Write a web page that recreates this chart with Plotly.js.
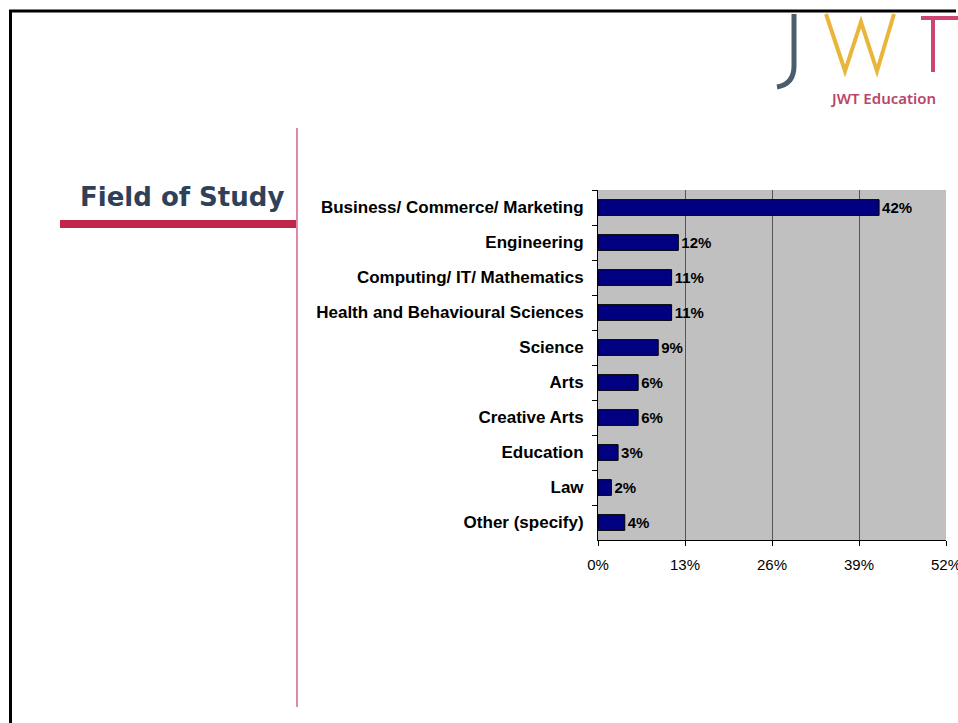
<!DOCTYPE html>
<html>
<head>
<meta charset="utf-8">
<script src="https://cdn.plot.ly/plotly-3.0.1.min.js"></script>
<style>html,body{margin:0;padding:0;background:#fff;}#chart{width:958px;height:723px;}</style>
</head>
<body>
<div id="chart"></div>
<script>
const categories = ["Business/ Commerce/ Marketing","Engineering","Computing/ IT/ Mathematics","Health and Behavioural Sciences","Science","Arts","Creative Arts","Education","Law","Other (specify)"];
const values = [42, 12, 11, 11, 9, 6, 6, 3, 2, 4];
const valueLabels = ["42%","12%","11%","11%","9%","6%","6%","3%","2%","4%"];
const xTickVals = [0, 13, 26, 39, 52];
const xTickText = ["0%","13%","26%","39%","52%"];

const W = 958, H = 723;
const px = x => x / W;
const py = y => 1 - y / H;
const P = (pts) => pts.map((p,i)=> (i? 'L':'M') + px(p[0]).toFixed(5) + ',' + py(p[1]).toFixed(5)).join(' ');

const trace = {
  type: 'bar', orientation: 'h',
  y: categories, x: values,
  text: valueLabels, textposition: 'outside', cliponaxis: false, constraintext: 'none',
  textfont: {family: 'Liberation Sans, Arial', size: 15, color: '#000', weight: 'bold'},
  marker: {color: '#000080', line: {color: '#000', width: 1}},
  width: 0.45, hoverinfo: 'none'
};

const shapes = [
  // frame
  {type:'line', xref:'paper', yref:'paper', x0:px(9), x1:px(956), y0:py(11), y1:py(11), line:{color:'#000', width:3}},
  {type:'line', xref:'paper', yref:'paper', x0:px(10.5), x1:px(10.5), y0:py(10), y1:py(723), line:{color:'#000', width:3}},
  // red underline
  {type:'rect', xref:'paper', yref:'paper', x0:px(60), x1:px(297), y0:py(228), y1:py(220), fillcolor:'#C0254A', line:{width:0}},
  // vertical pink divider
  {type:'line', xref:'paper', yref:'paper', x0:px(297), x1:px(297), y0:py(128), y1:py(707), line:{color:'#DE8CA2', width:2}},
  // logo J
  {type:'path', xref:'paper', yref:'paper', path: P([[794,14],[794,66]]) + ' Q' + px(794).toFixed(5)+','+py(84).toFixed(5)+' '+px(777).toFixed(5)+','+py(87).toFixed(5), line:{color:'#4B5C6C', width:5}},
  // logo W
  {type:'path', xref:'paper', yref:'paper', path: P([[826,14],[845,71],[861,22],[877,71],[894,14]]), line:{color:'#E9B63B', width:4}},
  // logo T
  {type:'path', xref:'paper', yref:'paper', path: P([[921,18],[958,18]]), line:{color:'#CD4672', width:4}},
  {type:'path', xref:'paper', yref:'paper', path: P([[933,18],[933,72]]), line:{color:'#CD4672', width:4}}
];

const annotations = [
  {xref:'paper', yref:'paper', x:px(286), y:py(197), xanchor:'right', yanchor:'middle', showarrow:false,
   text:'Field of Study', font:{family:'DejaVu Sans, Verdana', size:26, color:'#2F4058', weight:'bold'}},
  {xref:'paper', yref:'paper', x:px(883), y:py(98), xanchor:'center', yanchor:'middle', showarrow:false,
   text:'JWT Education', font:{family:'Noto Sans, Open Sans', size:15, color:'#B9456A', weight:600}}
];

const layout = {
  width: W, height: H,
  margin: {l:0, r:0, t:0, b:0},
  paper_bgcolor: '#fff', plot_bgcolor: '#C0C0C0',
  showlegend: false,
  xaxis: {
    domain: [px(598), px(946)], range: [0, 52],
    tickvals: xTickVals, ticktext: xTickText,
    ticks: 'outside', ticklen: 5, tickcolor: '#000',
    ticklabeloverflow: 'allow', ticklabelstandoff: 6,
    showline: true, linecolor: '#000', linewidth: 1,
    showgrid: true, gridcolor: '#555', gridwidth: 1, zeroline: false,
    tickfont: {family: 'Liberation Sans, Arial', size: 15, color: '#000'},
    fixedrange: true
  },
  yaxis: {
    domain: [py(540), py(190)],
    autorange: 'reversed', type: 'category',
    ticks: 'outside', tickson: 'boundaries', ticklen: 5, tickcolor: '#000',
    showline: true, linecolor: '#000', linewidth: 1,
    showgrid: false, zeroline: false,
    ticklabelstandoff: 10,
    tickfont: {family: 'Liberation Sans, Arial', size: 17, color: '#000', weight: 'bold'},
    fixedrange: true
  },
  shapes: shapes,
  annotations: annotations
};

Plotly.newPlot('chart', [trace], layout, {displayModeBar: false, staticPlot: true});
</script>
</body>
</html>
